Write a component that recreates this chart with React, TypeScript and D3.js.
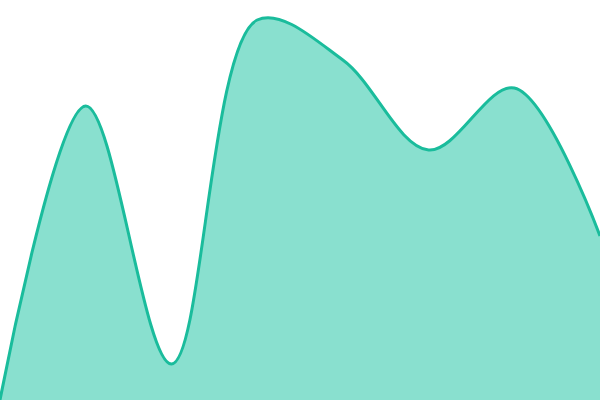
import React from "react";
import * as d3 from "d3";

const categories = [0, 1, 2, 3, 4, 5, 6, 7];
const values = [0, 73.5, 9, 95, 85, 62.5, 78, 41];

const W = 600;
const H = 400;

export default function App() {
  const x = d3.scaleLinear().domain([0, categories.length - 1]).range([0, W]);
  const y = d3.scaleLinear().domain([0, 100]).range([H, 0]);
  const curve = d3.curveCatmullRom.alpha(0.5);
  const area = d3
    .area<number>()
    .x((_, i) => x(categories[i]))
    .y0(H)
    .y1((d) => y(d))
    .curve(curve);
  const line = d3
    .line<number>()
    .x((_, i) => x(categories[i]))
    .y((d) => y(d))
    .curve(curve);
  return (
    <svg
      width={W}
      height={H}
      style={{ position: "absolute", left: 0, top: 0, display: "block" }}
    >
      <rect width={W} height={H} fill="#ffffff" />
      <path d={area(values) || ""} fill="#89e0cf" />
      <path d={line(values) || ""} fill="none" stroke="#1abc9c" strokeWidth={3} />
    </svg>
  );
}
